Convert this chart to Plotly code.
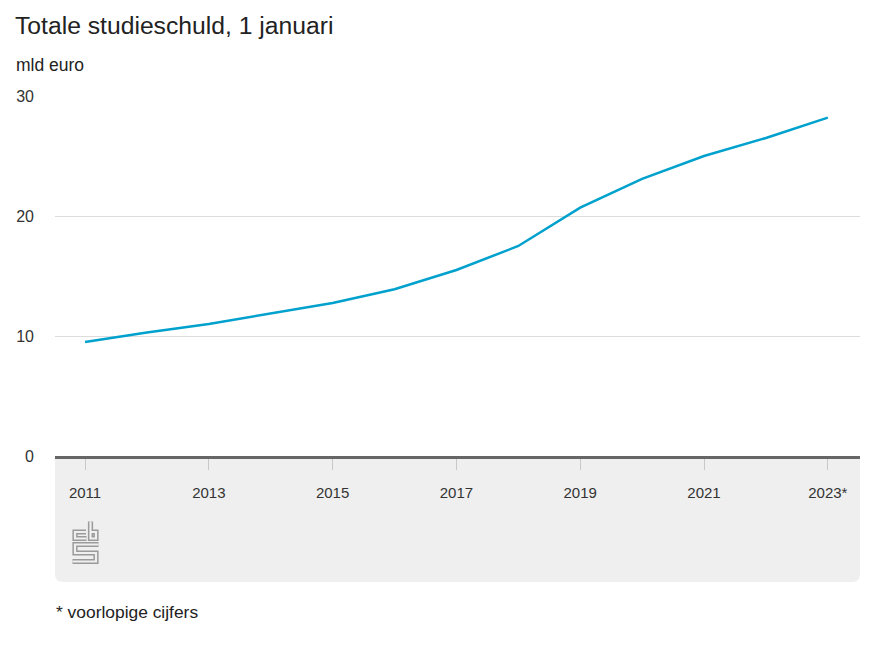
import plotly.graph_objects as go

# ---- data ----
years = [2011, 2012, 2013, 2014, 2015, 2016, 2017, 2018, 2019, 2020, 2021, 2022, 2023]
studieschuld = [9.5, 10.3, 11.0, 11.9, 12.75, 13.9, 15.5, 17.5, 20.7, 23.1, 25.0, 26.5, 28.2]
tick_years = [2011, 2013, 2015, 2017, 2019, 2021, 2023]
tick_labels = ["2011", "2013", "2015", "2017", "2019", "2021", "2023*"]
y_ticks = [0, 10, 20, 30]

title_text = "Totale studieschuld, 1 januari"
unit_text = "mld euro"
note_text = "* voorlopige cijfers"

# ---- layout geometry (pixels); page body has an 8px margin ----
OFF = 8
W, H = 874 - 2 * OFF, 656 - 2 * OFF
ML = 55 - OFF
MT = 96 - OFF
MR = W - (860 - OFF)
MB = H - (456 - OFF)
PW, PH = W - ML - MR, H - MT - MB

def px(x):
    """screen x (reference pixels) -> paper x"""
    return (x - OFF - ML) / PW

def py(y):
    """screen y (reference pixels) -> paper y"""
    return (H - MB - (y - OFF)) / PH

FONT = "Liberation Sans, Arial, sans-serif"
BLUE = "#00a1cd"
PANEL = "#efefef"

fig = go.Figure()
fig.add_trace(go.Scatter(
    x=years, y=studieschuld, mode="lines",
    line=dict(color=BLUE, width=2.5), hoverinfo="x+y", showlegend=False,
))

# grey panel below the axis, rounded bottom corners
yb = py(582)
rx, ry = 8 / PW, 8 / PH
panel_path = (f"M 0,0 L 1,0 L 1,{yb+ry} Q 1,{yb} {1-rx},{yb} "
              f"L {rx},{yb} Q 0,{yb} 0,{yb+ry} Z")
shapes = [dict(type="path", xref="paper", yref="paper", path=panel_path,
               fillcolor=PANEL, line=dict(width=0), layer="below")]

# CBS logo (outlined strokes)
def pth(points):
    return "M " + " L ".join(f"{px(a)},{py(b)}" for a, b in points)

logo_parts = [
    [(86, 532), (75, 532), (75, 538.5), (86.5, 538.5)],                         # c
    [(90.5, 521.5), (90.5, 538.5), (96, 538.5), (96, 532), (90.5, 532)],        # b
    [(98.5, 544.5), (75, 544.5), (75, 553), (96, 553), (96, 561.5), (72.5, 561.5)],  # s
]
for part in logo_parts:
    shapes.append(dict(type="path", xref="paper", yref="paper", path=pth(part),
                       line=dict(color="#9a9a9a", width=5.2), layer="above"))
for part in logo_parts:
    shapes.append(dict(type="path", xref="paper", yref="paper", path=pth(part),
                       line=dict(color=PANEL, width=2.2), layer="above"))

fig.update_layout(
    width=W, height=H,
    margin=dict(l=ML, r=MR, t=MT, b=MB),
    paper_bgcolor="white", plot_bgcolor="white",
    font=dict(family=FONT, size=15, color="#333333"),
    title=dict(text=title_text, font=dict(size=24.7, color="#222222", family=FONT),
               xref="container", yref="container",
               x=(15 - OFF) / W, xanchor="left", y=1 - (25 - OFF) / H, yanchor="middle"),
    shapes=shapes,
    annotations=[
        dict(text=unit_text, xref="paper", yref="paper", x=px(13.5), y=py(65),
             xanchor="left", yanchor="middle", showarrow=False,
             font=dict(size=17.5, color="#222222")),
        dict(text=note_text, xref="paper", yref="paper", x=px(53.5), y=py(612),
             xanchor="left", yanchor="middle", showarrow=False,
             font=dict(size=17.4, color="#222222")),
    ],
    xaxis=dict(
        range=[2010.515, 2023.52], tickvals=tick_years, ticktext=tick_labels,
        showgrid=False, zeroline=False,
        showline=True, linecolor="#666666", linewidth=2.5,
        ticks="outside", ticklen=11, tickcolor="#c8c8c8", tickwidth=1,
        ticklabelstandoff=10, tickfont=dict(size=15, color="#333333"),
    ),
    yaxis=dict(
        range=[0, 30], tickvals=y_ticks, showgrid=True, gridcolor="#dcdcdc",
        gridwidth=1, zeroline=False, showline=False, ticks="",
        ticklabelstandoff=20, tickfont=dict(size=16, color="#333333"),
    ),
)

fig.write_html("out.html")
